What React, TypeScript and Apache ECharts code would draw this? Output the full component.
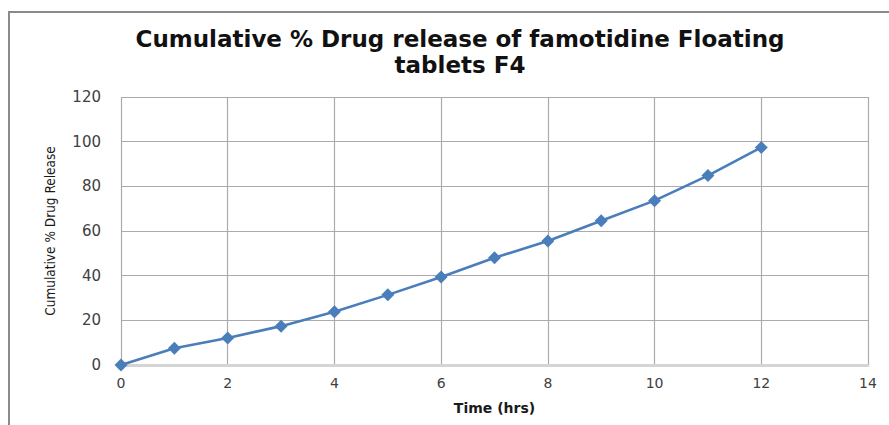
import React, { useEffect, useRef } from "react";
import * as echarts from "echarts";

// Release profile of famotidine floating tablets, batch F4
const timeHrs = [0, 1, 2, 3, 4, 5, 6, 7, 8, 9, 10, 11, 12];
const cumulativeRelease = [0, 7.5, 12.1, 17.4, 23.8, 31.4, 39.4, 48.0, 55.5, 64.6, 73.6, 84.8, 97.4];

const titleLines = ["Cumulative % Drug release of famotidine Floating", "tablets F4"];
const xAxisName = "Time (hrs)";
const yAxisName = "Cumulative % Drug Release";

export default function App() {
  const ref = useRef<HTMLDivElement>(null);

  useEffect(() => {
    if (!ref.current) return;
    const chart = echarts.init(ref.current, null, { renderer: "svg" });
    const labelColor = "#404040";
    chart.setOption({
      animation: false,
      backgroundColor: "#ffffff",
      title: {
        text: titleLines.join("\n"),
        left: 455,
        top: 21,
        textAlign: "center",
        textStyle: {
          fontFamily: "DejaVu Sans",
          fontWeight: "bold",
          fontSize: 23,
          lineHeight: 26,
          color: "#111111",
        },
      },
      grid: { left: 121, right: 21, top: 97, bottom: 60, containLabel: false },
      xAxis: {
        type: "value",
        min: 0,
        max: 14,
        interval: 2,
        name: xAxisName,
        nameLocation: "middle",
        nameGap: 36,
        nameTextStyle: {
          fontFamily: "DejaVu Sans",
          fontWeight: "bold",
          fontSize: 14,
          color: "#1a1a1a",
        },
        axisLine: { show: true, lineStyle: { color: "#d4d4d4", width: 3 } },
        axisTick: { show: false },
        axisLabel: {
          margin: 11,
          fontFamily: "DejaVu Sans",
          fontSize: 14,
          color: labelColor,
        },
        splitLine: { show: true, lineStyle: { color: "#ababab", width: 1.2 } },
      },
      yAxis: {
        type: "value",
        min: 0,
        max: 120,
        interval: 20,
        name: yAxisName,
        nameLocation: "middle",
        nameGap: 64,
        nameRotate: 90,
        nameTextStyle: {
          fontFamily: "Liberation Sans Narrow, DejaVu Sans Condensed, sans-serif",
          fontSize: 13.5,
          color: "#1a1a1a",
        },
        axisLine: { show: false },
        axisTick: { show: false },
        axisLabel: {
          margin: 20,
          fontFamily: "DejaVu Sans",
          fontSize: 15,
          color: labelColor,
        },
        splitLine: { show: true, lineStyle: { color: "#ababab", width: 1.2 } },
      },
      series: [
        {
          type: "line",
          data: timeHrs.map((t, i) => [t, cumulativeRelease[i]]),
          symbol: "diamond",
          symbolSize: 13,
          showSymbol: true,
          lineStyle: { color: "#4a7ebb", width: 2.6 },
          itemStyle: { color: "#4a7ebb" },
          z: 5,
        },
      ],
      graphic: [
        {
          type: "polyline",
          shape: { points: [[9, 425], [9, 12], [889, 12]] },
          style: { stroke: "#8a8a8a", lineWidth: 2, fill: "none" },
          silent: true,
        },
      ],
    });
    return () => chart.dispose();
  }, []);

  return (
    <div
      ref={ref}
      style={{ width: 889, height: 425, position: "absolute", left: 0, top: 0 }}
    />
  );
}
